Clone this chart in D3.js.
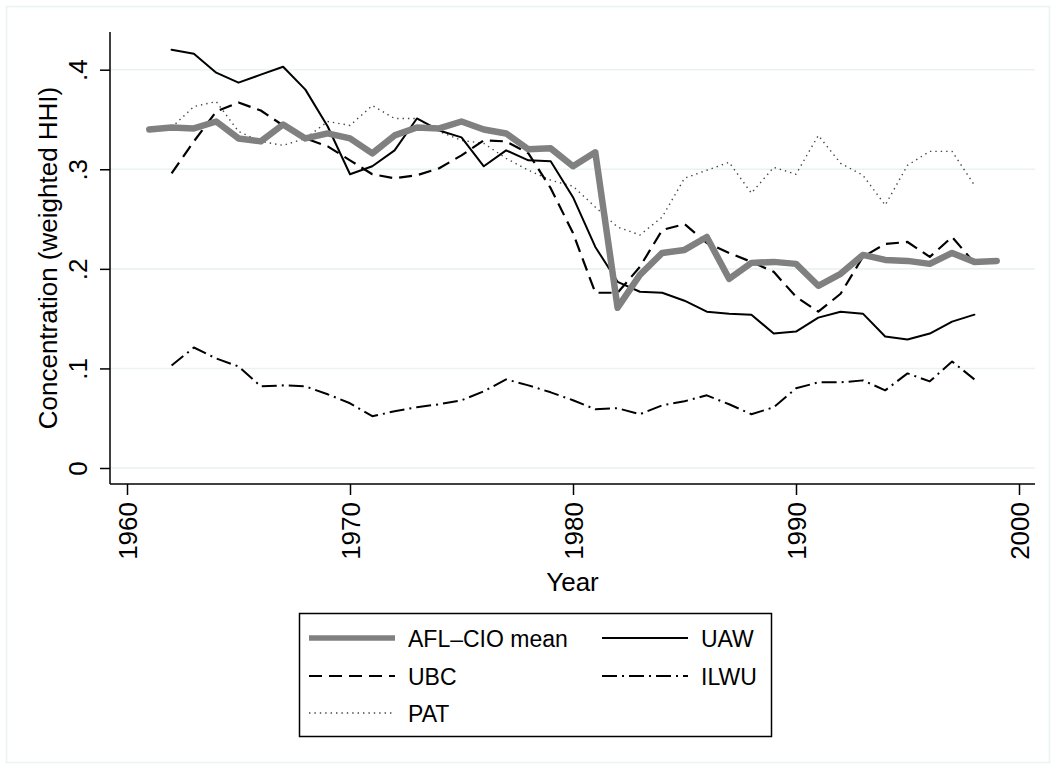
<!DOCTYPE html>
<html>
<head>
<meta charset="utf-8">
<script src="https://cdn.jsdelivr.net/npm/d3@7"></script>
<style>
  body { margin: 0; background: #fff; }
  svg text { font-family: "Liberation Sans", Arial, sans-serif; fill: #000; }
</style>
</head>
<body>
<svg id="chart" width="1056" height="769"></svg>
<script>
// years
const MEAN_YEARS = d3.range(1961, 2000);
const UNION_YEARS = d3.range(1962, 1999);

// AFL-CIO mean concentration, 1961-1999
const aflMean = [0.340, 0.342, 0.341, 0.348, 0.331, 0.328, 0.345, 0.331, 0.336, 0.331,
                 0.316, 0.334, 0.342, 0.341, 0.348, 0.340, 0.336, 0.320, 0.321, 0.303,
                 0.317, 0.161, 0.194, 0.216, 0.219, 0.232, 0.190, 0.206, 0.207, 0.205,
                 0.183, 0.195, 0.214, 0.209, 0.208, 0.205, 0.216, 0.207, 0.208];

// unions, 1962-1998
const uaw  = [0.420, 0.416, 0.397, 0.387, 0.395, 0.403, 0.380, 0.343, 0.295, 0.303,
              0.319, 0.351, 0.339, 0.332, 0.303, 0.319, 0.309, 0.308, 0.272, 0.222,
              0.187, 0.177, 0.176, 0.168, 0.157, 0.155, 0.154, 0.135, 0.137, 0.151,
              0.157, 0.155, 0.132, 0.129, 0.135, 0.147, 0.154];
const ubc  = [0.296, 0.328, 0.358, 0.367, 0.359, 0.344, 0.331, 0.323, 0.309, 0.295,
              0.291, 0.294, 0.301, 0.314, 0.329, 0.328, 0.316, 0.281, 0.236, 0.176,
              0.176, 0.202, 0.239, 0.245, 0.226, 0.216, 0.207, 0.197, 0.172, 0.157,
              0.175, 0.212, 0.225, 0.227, 0.212, 0.232, 0.206];
const ilwu = [0.103, 0.121, 0.110, 0.102, 0.082, 0.083, 0.082, 0.074, 0.065, 0.052,
              0.057, 0.061, 0.064, 0.068, 0.077, 0.089, 0.083, 0.076, 0.068, 0.059,
              0.060, 0.054, 0.063, 0.067, 0.073, 0.064, 0.054, 0.061, 0.080, 0.086,
              0.086, 0.088, 0.078, 0.095, 0.087, 0.107, 0.089];
const pat  = [0.342, 0.363, 0.368, 0.338, 0.328, 0.324, 0.331, 0.348, 0.344, 0.364,
              0.351, 0.351, 0.338, 0.329, 0.326, 0.311, 0.299, 0.289, 0.283, 0.262,
              0.242, 0.234, 0.252, 0.291, 0.299, 0.307, 0.276, 0.302, 0.295, 0.334,
              0.306, 0.294, 0.264, 0.304, 0.318, 0.318, 0.284];

const X_TICKS = [1960, 1970, 1980, 1990, 2000];
const Y_TICKS = [0, 0.1, 0.2, 0.3, 0.4];
const Y_TICK_LABELS = ["0", ".1", ".2", ".3", ".4"];

// line styles
const SERIES = [
    { name: "AFL\u2013CIO mean", years: MEAN_YEARS, values: aflMean, color: "#808080", width: 6.5, dash: null },
    { name: "UAW",  years: UNION_YEARS, values: uaw,  color: "#000", width: 2,   dash: null },
    { name: "UBC",  years: UNION_YEARS, values: ubc,  color: "#000", width: 2.2, dash: "13,7" },
    { name: "ILWU", years: UNION_YEARS, values: ilwu, color: "#000", width: 2,   dash: "15,5,2,5" },
    { name: "PAT",  years: UNION_YEARS, values: pat,  color: "#444", width: 1.4, dash: "1.4,4" }
];

const svg = d3.select("#chart");

// outer graph region outline
svg.append("rect")
    .attr("x", 6.5).attr("y", 6.5)
    .attr("width", 1043).attr("height", 756)
    .attr("fill", "none")
    .attr("stroke", "#eaf2f3")
    .attr("stroke-width", 1.5);

const plot = { left: 110, right: 1035, top: 32, bottom: 484 };

const x = d3.scaleLinear().domain([1960, 2000]).range([127, 1019]);
const y = d3.scaleLinear().domain([0, 0.4]).range([468, 69.7]);

// gridlines
svg.append("g")
    .selectAll("line")
    .data(Y_TICKS)
    .join("line")
    .attr("x1", plot.left).attr("x2", plot.right)
    .attr("y1", d => y(d)).attr("y2", d => y(d))
    .attr("stroke", "#eaf2f3")
    .attr("stroke-width", 1.6);

// y axis
const yAxis = svg.append("g")
    .attr("transform", `translate(${plot.left},0)`)
    .call(d3.axisLeft(y).tickValues(Y_TICKS).tickSize(10).tickSizeOuter(0)
        .tickFormat((d, i) => Y_TICK_LABELS[i]));
yAxis.select(".domain").remove();
yAxis.selectAll(".tick line").attr("stroke", "#000").attr("stroke-width", 1.5);
yAxis.selectAll(".tick text")
    .attr("x", null).attr("dy", null)
    .attr("transform", "translate(-23,0) rotate(-90)")
    .attr("text-anchor", "middle")
    .attr("font-size", "26px");

// x axis
const xAxis = svg.append("g")
    .attr("transform", `translate(0,${plot.bottom})`)
    .call(d3.axisBottom(x).tickValues(X_TICKS).tickSize(11).tickSizeOuter(0)
        .tickFormat(d3.format("d")));
xAxis.select(".domain").remove();
xAxis.selectAll(".tick line").attr("stroke", "#000").attr("stroke-width", 1.5);
xAxis.selectAll(".tick text")
    .attr("y", null).attr("dy", null)
    .attr("transform", "translate(9.5,18) rotate(-90)")
    .attr("text-anchor", "end")
    .attr("font-size", "26px");

// axis lines
svg.append("line")
    .attr("x1", plot.left).attr("x2", plot.left)
    .attr("y1", plot.top).attr("y2", plot.bottom)
    .attr("stroke", "#000").attr("stroke-width", 1.5);
svg.append("line")
    .attr("x1", plot.left).attr("x2", plot.right)
    .attr("y1", plot.bottom).attr("y2", plot.bottom)
    .attr("stroke", "#000").attr("stroke-width", 1.5);

// axis titles
svg.append("text")
    .attr("transform", `translate(57,${(plot.top + plot.bottom) / 2}) rotate(-90)`)
    .attr("text-anchor", "middle")
    .attr("font-size", "26px")
    .text("Concentration (weighted HHI)");

svg.append("text")
    .attr("x", (plot.left + plot.right) / 2)
    .attr("y", 591)
    .attr("text-anchor", "middle")
    .attr("font-size", "26px")
    .text("Year");

// lines
const line = d3.line()
    .x(d => x(d[0]))
    .y(d => y(d[1]));

svg.append("g")
    .selectAll("path")
    .data(SERIES.slice().reverse())
    .join("path")
    .attr("d", s => line(s.years.map((yr, i) => [yr, s.values[i]])))
    .attr("fill", "none")
    .attr("stroke", s => s.color)
    .attr("stroke-width", s => s.width)
    .attr("stroke-dasharray", s => s.dash)
    .attr("stroke-linejoin", "round")
    .attr("stroke-linecap", s => s.dash ? "butt" : "round");

// legend
const legend = svg.append("g");
legend.append("rect")
    .attr("x", 299.5).attr("y", 613.5)
    .attr("width", 472).attr("height", 123)
    .attr("fill", "#fff")
    .attr("stroke", "#000")
    .attr("stroke-width", 1.5);

const LEGEND_POS = [
    { col: 0, row: 0 }, { col: 1, row: 0 },
    { col: 0, row: 1 }, { col: 1, row: 1 },
    { col: 0, row: 2 }
];
const colX = [309, 602];
const rowY = [647, 685, 722];

SERIES.forEach((s, i) => {
    const p = LEGEND_POS[i];
    const kx = colX[p.col];
    const by = rowY[p.row];
    legend.append("line")
        .attr("x1", kx).attr("x2", kx + 86)
        .attr("y1", by - 9).attr("y2", by - 9)
        .attr("stroke", s.color)
        .attr("stroke-width", s.width === 6.5 ? 5.7 : s.width)
        .attr("stroke-dasharray", s.dash);
    legend.append("text")
        .attr("x", kx + 99)
        .attr("y", by)
        .attr("font-size", "23px")
        .text(s.name);
});
</script>
</body>
</html>
